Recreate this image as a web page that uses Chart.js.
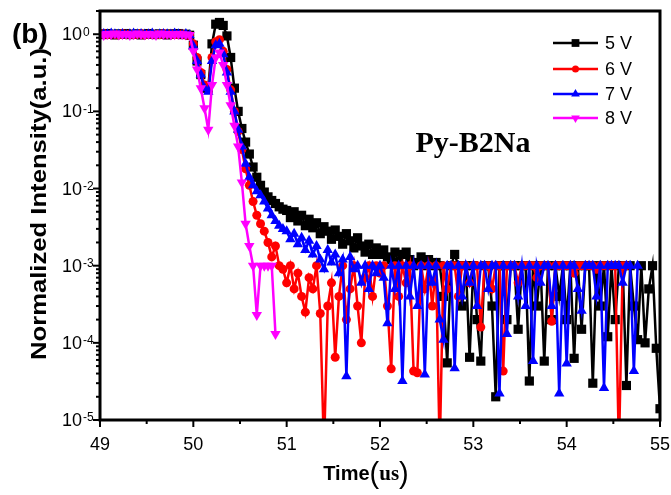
<!DOCTYPE html>
<html>
<head>
<meta charset="utf-8">
<script src="https://cdn.jsdelivr.net/npm/chart.js@4.4.1/dist/chart.umd.min.js"></script>
<style>
  html, body { margin: 0; padding: 0; background: #fff; }
  canvas { display: block; }
</style>
</head>
<body>
<canvas id="myChart" width="671" height="495"></canvas>
<script>
// sample times (us)
const times = [
  49.00,49.04,49.08,49.12,49.16,49.20,49.24,49.28,49.32,49.36,49.40,49.44,49.48,49.52,49.56,49.60,49.64,49.68,49.72,49.76,49.80,49.84,49.88,49.92,49.96,
  50.00,50.04,50.08,50.12,50.16,50.20,50.24,50.28,50.32,50.36,50.40,50.44,50.48,50.52,50.56,50.60,50.64,50.68,50.72,50.76,50.80,50.84,50.88,50.92,50.96,
  51.00,51.04,51.08,51.12,51.16,51.20,51.24,51.28,51.32,51.36,51.40,51.44,51.48,51.52,51.56,51.60,51.64,51.68,51.72,51.76,51.80,51.84,51.88,51.92,51.96,
  52.00,52.04,52.08,52.12,52.16,52.20,52.24,52.28,52.32,52.36,52.40,52.44,52.48,52.52,52.56,52.60,52.64,52.68,52.72,52.76,52.80,52.84,52.88,52.92,52.96,
  53.00,53.04,53.08,53.12,53.16,53.20,53.24,53.28,53.32,53.36,53.40,53.44,53.48,53.52,53.56,53.60,53.64,53.68,53.72,53.76,53.80,53.84,53.88,53.92,53.96,
  54.00,54.04,54.08,54.12,54.16,54.20,54.24,54.28,54.32,54.36,54.40,54.44,54.48,54.52,54.56,54.60,54.64,54.68,54.72,54.76,54.80,54.84,54.88,54.92,54.96,
  55.00
];

const seriesNames = ['5 V', '6 V', '7 V', '8 V'];

const v5 = [
  1.01,0.99,1.02,1.00,0.98,1.01,1.00,1.02,0.99,1.00,1.01,0.98,1.00,1.02,1.00,0.99,1.01,1.00,0.98,1.01,1.00,1.02,0.99,1.00,0.97,
  0.72,0.45,0.3,0.2,0.2,0.75,1.35,1.42,1.3,0.95,0.5,0.2,0.1,0.06,0.04,0.028,0.019,0.014,0.011,0.009,0.0078,0.007,0.0064,0.0058,0.0054,
  0.0052,0.0042,0.005,0.0038,0.0045,0.0033,0.004,0.0031,0.0036,0.0026,0.0032,0.0028,0.0022,0.0029,0.0024,0.0019,0.0026,0.0021,0.0017,0.0023,0.0018,0.0015,0.0019,0.0014,0.0017,
  0.0014,0.0016,0.0013,0.0012,0.0015,0.0011,0.0014,0.0015,0.0012,0.001,0.0011,0.0013,0.001,0.0012,0.001,0.0011,0.001,0.0004,5.5e-5,0.001,0.0014,0.001,0.0003,0.001,6.5e-5,
  0.001,0.0002,5.8e-5,0.001,0.001,0.0003,2e-5,0.001,0.001,0.0002,0.001,0.001,0.00015,0.001,0.001,3.2e-5,0.001,0.0003,0.001,5.8e-5,0.001,0.0002,0.001,0.0004,0.001,
  0.0002,0.001,6.3e-5,0.001,0.00015,0.001,0.001,3e-5,0.001,0.0003,0.001,0.00012,0.001,0.0002,0.001,0.001,2.8e-5,0.001,0.0003,1.1e-4,0.001,1e-4,0.0005,0.001,8.5e-5,
  1.4e-5
];

const v6 = [
  1.00,1.02,0.99,1.01,1.00,0.98,1.02,1.00,1.01,0.99,1.00,1.02,0.98,1.01,1.00,1.00,0.99,1.02,1.00,1.01,0.99,1.00,1.01,0.98,0.96,
  0.75,0.5,0.32,0.22,0.2,0.5,0.8,0.85,0.6,0.35,0.19,0.1,0.055,0.032,0.018,0.011,0.0068,0.0045,0.0035,0.0028,0.002,0.0013,0.0018,0.001,0.0009,
  0.0006,0.001,0.0005,0.0008,0.0004,0.00025,0.0007,0.0005,0.001,0.00024,4e-6,0.0003,0.0006,6.5e-5,0.0004,0.001,0.0002,0.0005,0.001,0.0003,1e-4,0.0007,0.001,0.0004,0.001,
  0.0008,0.001,0.0003,4.6e-5,0.001,0.0004,0.001,0.0006,0.001,4.3e-5,4.1e-5,0.001,0.0005,0.001,0.0003,0.001,4e-6,0.001,0.0005,0.001,0.001,0.0004,0.001,0.001,0.0006,
  0.001,0.001,1.6e-4,0.001,0.001,0.0005,0.001,0.001,4.3e-5,0.001,0.001,0.001,0.0006,0.001,0.001,0.001,0.001,0.0007,0.001,0.001,0.001,1.9e-4,0.001,0.001,0.001,
  0.001,0.001,0.0008,0.001,0.001,0.001,0.001,0.001,0.0009,0.001,0.001,0.001,0.001,0.001,4e-6,0.001,0.001
];

const v7 = [
  0.99,1.01,1.00,1.02,1.00,0.99,1.01,0.98,1.00,1.02,1.00,1.01,0.99,1.00,1.02,0.98,1.00,1.01,1.00,0.99,1.02,1.00,0.98,1.01,0.97,
  0.7,0.45,0.3,0.2,0.18,0.45,0.72,0.75,0.55,0.32,0.18,0.1,0.058,0.035,0.021,0.014,0.011,0.0092,0.0082,0.0068,0.0055,0.0045,0.0038,0.0033,0.003,
  0.0028,0.0022,0.0026,0.0019,0.0023,0.0016,0.0021,0.0014,0.0018,0.0012,0.0009,0.0016,0.0011,0.0014,0.0008,0.0012,3.7e-5,0.0013,0.0009,0.001,0.0006,0.001,0.0005,0.001,0.0008,
  0.001,0.0007,1.8e-4,0.001,0.0005,0.001,3.2e-5,0.001,0.0004,0.001,0.0003,0.001,3.9e-5,0.001,0.0006,0.001,0.0002,1.1e-4,0.001,0.001,4.7e-5,0.001,0.0004,0.001,0.0006,
  0.001,0.0003,0.001,0.001,0.0005,0.001,0.001,2.2e-5,0.001,1.3e-4,0.001,0.001,0.0004,0.001,0.0003,0.001,5.8e-5,0.001,0.0006,0.001,0.001,0.0003,0.001,2.2e-5,0.001,
  5.4e-5,0.001,0.001,0.0005,2.6e-4,0.001,0.001,0.001,0.0004,0.001,2.6e-5,0.001,0.001,0.001,0.001,0.0006,0.001,0.001,4.3e-5,0.001
];

const v8 = [
  1.00,0.98,1.01,1.00,1.02,0.99,1.00,1.01,0.98,1.00,1.02,1.00,0.99,1.01,1.00,0.98,1.02,1.00,1.01,0.99,1.00,1.01,1.00,0.99,0.98,
  0.6,0.35,0.2,0.11,0.058,0.22,0.5,0.58,0.4,0.22,0.12,0.065,0.035,0.012,0.0035,0.0018,0.001,2.3e-4,0.001,0.001,0.001,0.001,1.3e-4
];

const xTicks = [49, 50, 51, 52, 53, 54, 55];
const yTicks = [1e-5, 1e-4, 1e-3, 1e-2, 1e-1, 1];
const yTickExp = ['-5', '-4', '-3', '-2', '-1', '0'];

function toPoints(vals) {
  return vals.map((v, i) => ({ x: times[i], y: v }));
}

const colors = ['#000000', '#ff0000', '#0000ff', '#ff00ff'];
const styles = [
  { pointStyle: 'rect', radius: 6.5, rotation: 0 },
  { pointStyle: 'circle', radius: 4.5, rotation: 0 },
  { pointStyle: 'triangle', radius: 6, rotation: 0 },
  { pointStyle: 'triangle', radius: 6, rotation: 180 },
];
const allVals = [v5, v6, v7, v8];

const datasets = allVals.map((vals, k) => ({
  label: seriesNames[k],
  data: toPoints(vals),
  showLine: true,
  borderColor: colors[k],
  backgroundColor: colors[k],
  borderWidth: 2.5,
  pointStyle: styles[k].pointStyle,
  pointRadius: styles[k].radius,
  pointRotation: styles[k].rotation,
  pointBorderWidth: 0,
  pointBackgroundColor: colors[k],
  order: 3 - k,
}));

const decor = {
  id: 'decor',
  afterDraw(chart) {
    const c = chart.ctx;
    const a = chart.chartArea;
    const xs = chart.scales.x, ys = chart.scales.y;
    c.save();
    c.strokeStyle = '#000';
    c.fillStyle = '#000';

    // frame
    c.lineWidth = 3;
    c.strokeRect(a.left, a.top, a.right - a.left, a.bottom - a.top);

    // x ticks
    c.lineWidth = 2;
    for (let t = 49; t <= 55; t += 0.5) {
      const px = xs.getPixelForValue(t);
      const len = (t % 1 === 0) ? 7 : 4;
      c.beginPath(); c.moveTo(px, a.bottom); c.lineTo(px, a.bottom + len); c.stroke();
    }
    c.font = '18px "Liberation Sans", Arial, sans-serif';
    c.textAlign = 'center';
    c.textBaseline = 'alphabetic';
    xTicks.forEach(t => {
      c.fillText(String(t), xs.getPixelForValue(t), 450);
    });

    // y ticks
    for (let d = -5; d <= 0; d++) {
      for (let m = 1; m <= 9; m++) {
        const v = m * Math.pow(10, d);
        if (v > 2) continue;
        const py = ys.getPixelForValue(v);
        const len = m === 1 ? 7 : 4;
        c.beginPath(); c.moveTo(a.left, py); c.lineTo(a.left - len, py); c.stroke();
      }
    }
    yTicks.forEach((v, i) => {
      const py = ys.getPixelForValue(v);
      c.font = '18px "Liberation Sans", Arial, sans-serif';
      c.textAlign = 'right';
      c.textBaseline = 'middle';
      c.fillText('10', 82, py + 1);
      c.font = '12px "Liberation Sans", Arial, sans-serif';
      c.textAlign = 'left';
      c.textBaseline = 'top';
      c.fillText(yTickExp[i], 83, py - 8);
    });

    // y title
    c.save();
    c.translate(40, 204);
    c.rotate(-Math.PI / 2);
    c.font = 'bold 22px "Liberation Sans", Arial, sans-serif';
    const yt = 'Normalized Intensity(a.u.)';
    const w = c.measureText(yt).width;
    c.scale(312 / w, 1);
    c.textAlign = 'center';
    c.textBaseline = 'middle';
    c.fillText(yt, 0, 0);
    c.restore();

    // x title: Time(us)
    const parts = [
      { s: 'Time', f: 'bold 20px "Liberation Sans", Arial, sans-serif', dy: 0 },
      { s: '(', f: '29px "Liberation Sans", Arial, sans-serif', dy: 3 },
      { s: 'us', f: 'bold 21px "Liberation Serif", "Times New Roman", serif', dy: 0 },
      { s: ')', f: '29px "Liberation Sans", Arial, sans-serif', dy: 3 },
    ];
    let tot = 0;
    parts.forEach(p => { c.font = p.f; p.w = c.measureText(p.s).width; tot += p.w; });
    let xx = 366 - tot / 2;
    c.textAlign = 'left';
    c.textBaseline = 'alphabetic';
    parts.forEach(p => { c.font = p.f; c.fillText(p.s, xx, 480 + p.dy); xx += p.w; });

    // (b)
    c.font = 'bold 28px "Liberation Sans", Arial, sans-serif';
    c.fillText('(b)', 12, 43);

    // sample name
    c.font = 'bold 30px "Liberation Serif", "Times New Roman", serif';
    c.textAlign = 'center';
    c.fillText('Py-B2Na', 473, 152);

    // legend
    const rows = [43, 69, 94, 118];
    seriesNames.forEach((name, k) => {
      const y = rows[k];
      c.strokeStyle = colors[k];
      c.fillStyle = colors[k];
      c.lineWidth = 2.5;
      c.beginPath(); c.moveTo(553, y); c.lineTo(598, y); c.stroke();
      Chart.helpers.drawPoint(c, {
        pointStyle: styles[k].pointStyle,
        radius: styles[k].radius - 1,
        rotation: styles[k].rotation,
        borderWidth: 0,
      }, 575.5, y);
      c.fillStyle = '#000';
      c.font = '18px "Liberation Sans", Arial, sans-serif';
      c.textAlign = 'left';
      c.textBaseline = 'middle';
      c.fillText(name, 605, y + 1);
    });
    c.restore();
  }
};

new Chart(document.getElementById('myChart'), {
  type: 'scatter',
  data: { datasets: datasets },
  options: {
    responsive: false,
    animation: false,
    devicePixelRatio: 1,
    layout: { padding: { top: 11, right: 11, left: 0, bottom: 0 } },
    plugins: { legend: { display: false }, tooltip: { enabled: false } },
    scales: {
      x: {
        type: 'linear', min: 49, max: 55,
        grid: { display: false }, border: { display: false },
        ticks: { display: false },
        afterFit: s => { s.height = 75; }
      },
      y: {
        type: 'logarithmic', min: 1e-5, max: 2,
        grid: { display: false }, border: { display: false },
        ticks: { display: false },
        afterFit: s => { s.width = 100; }
      }
    }
  },
  plugins: [decor]
});
</script>
</body>
</html>
